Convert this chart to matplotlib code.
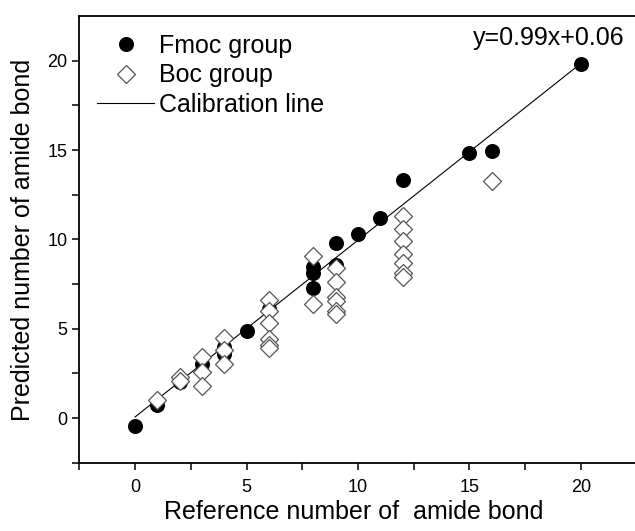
import matplotlib
matplotlib.use("Agg")
import matplotlib.pyplot as plt
import numpy as np

plt.rcParams['font.family'] = ['Liberation Sans', 'DejaVu Sans']

# Fmoc group (filled circles)
fmoc_x = [0, 1, 2, 3, 4, 4, 5, 6, 8, 8, 8, 9, 9, 10, 11, 12, 15, 16, 20]
fmoc_y = [-0.45, 0.75, 2.0, 3.0, 4.0, 3.6, 4.85, 6.1, 8.45, 8.1, 7.3, 8.55, 9.8, 10.3, 11.2, 13.35, 14.85, 14.95, 19.8]

# Boc group (open diamonds)
boc_x = [1, 2, 2, 3, 3, 3, 4, 4, 4, 6, 6, 6, 6, 6, 6, 8, 8,
         9, 9, 9, 9, 9, 9, 12, 12, 12, 12, 12, 12, 12, 16]
boc_y = [1.0, 2.3, 2.1, 3.4, 2.6, 1.8, 4.5, 3.8, 3.05, 6.6, 6.0, 5.3, 4.4, 4.1, 3.9, 9.1, 6.4,
         8.4, 7.6, 6.75, 6.55, 6.0, 5.8, 11.3, 10.6, 9.9, 9.2, 8.7, 8.1, 7.9, 13.3]

# Calibration line y = 0.99x + 0.06
slope = 0.99
intercept = 0.06
line_x = np.array([0, 20])

x_ticks = [0, 5, 10, 15, 20]
y_ticks = [0, 5, 10, 15, 20]

fig = plt.figure(figsize=(6.35, 5.31), dpi=100)
ax = fig.add_axes([79.3/635, 68.3/531, 557.4/635, 446.5/531])

ax.plot(line_x, slope*line_x + intercept, color='black', lw=0.8, label='Calibration line', zorder=1)
ax.plot(fmoc_x, fmoc_y, 'o', color='black', ms=9.8, ls='none', label='Fmoc group', zorder=2)
ax.plot(boc_x, boc_y, 'D', mfc='white', mec='#555555', mew=0.9, ms=9.5, ls='none', label='Boc group', zorder=3)

ax.set_xlim(-2.5, 22.5)
ax.set_ylim(-2.5, 22.5)
ax.set_xticks(x_ticks)
ax.set_yticks(y_ticks)
ax.set_xticks([-2.5, 2.5, 7.5, 12.5, 17.5], minor=True)
ax.set_yticks([-2.5, 2.5, 7.5, 12.5, 17.5], minor=True)
ax.tick_params(which='both', direction='out', length=5, width=1.1, labelsize=13)
ax.tick_params(axis='x', which='major', pad=6.5)
ax.tick_params(axis='y', which='major', pad=3.6)
for s in ax.spines.values():
    s.set_linewidth(1.3)

ax.set_xlabel('Reference number of  amide bond', fontsize=18)
ax.set_ylabel('Predicted number of amide bond', fontsize=18)
ax.xaxis.set_label_coords(0.493, -0.083)
ax.yaxis.set_label_coords(-0.080, 0.5)

ax.text(21.97, 20.86, 'y=0.99x+0.06', fontsize=18, ha='right', va='baseline')

h, l = ax.get_legend_handles_labels()
order = [1, 2, 0]
ax.legend([h[i] for i in order], [l[i] for i in order], loc='upper left',
          frameon=False, fontsize=18, bbox_to_anchor=(0.0, 1.0),
          handlelength=2.3, labelspacing=0.23, handletextpad=0.2, borderaxespad=0.3)

fig.savefig('out.png', dpi=100)
